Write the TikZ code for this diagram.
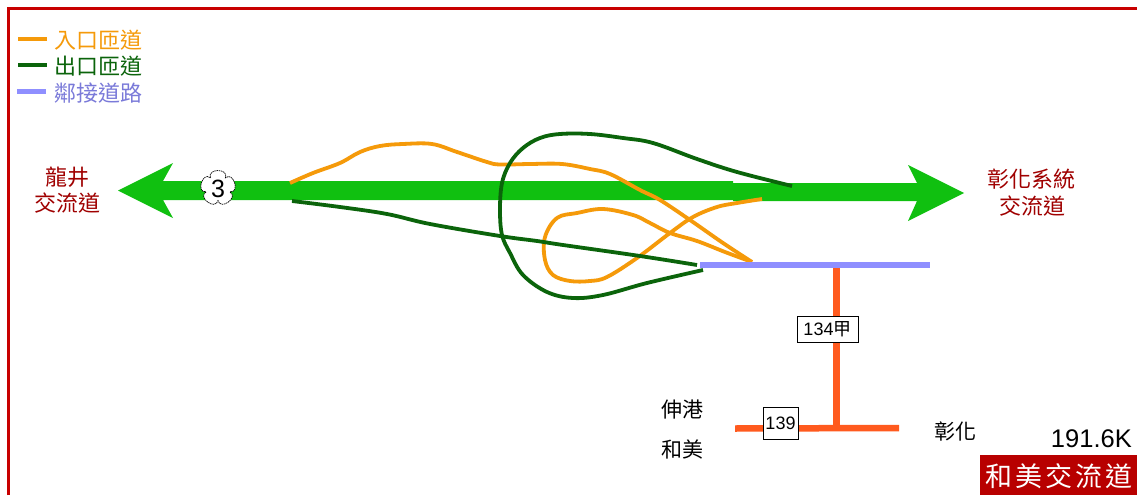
\documentclass[tikz,border=0pt]{standalone}
\usepackage{fontspec}
\setmainfont{Liberation Sans}
\newfontfamily\cjk{Noto Sans CJK TC}
\definecolor{bordercol}{HTML}{C80000}
\definecolor{ongreen}{HTML}{10C010}
\definecolor{rampin}{HTML}{F59A0A}
\definecolor{rampout}{HTML}{0B640B}
\definecolor{adjroad}{HTML}{8F8FFF}
\definecolor{localroad}{HTML}{FF5A1E}
\definecolor{darkred}{HTML}{A00000}
\definecolor{boxred}{HTML}{B80000}
\tikzset{
  x=1pt,y=-1pt,
  lbl/.style={inner sep=0pt,font=\fontsize{#1}{#1}\selectfont\cjk},
  lbl/.default=21,
  ic/.style={lbl=22,text=darkred,align=center},
  ramp/.style={line width=3.8pt,line join=round},
  legendline/.style={line width=3.8pt},
  roadbox/.style={draw=black,fill=white,line width=.9pt,inner sep=0pt,font=\fontsize{18}{18}\selectfont},
}
\begin{document}
\begin{tikzpicture}
\useasboundingbox (0,0) rectangle (1137,495);
\fill[white] (0,0) rectangle (1137,495);
% frame
\draw[bordercol,line width=2.5pt] (8.5,495) -- (8.5,8.5) -- (1137,8.5);
% legend
\coordinate (l1a) at (18,39); \coordinate (l1b) at (47,39);
\coordinate (l2a) at (18,65); \coordinate (l2b) at (47,65);
\coordinate (l3a) at (17,91); \coordinate (l3b) at (46,91);
\draw[legendline,rampin] (l1a) -- (l1b);
\draw[legendline,rampout] (l2a) -- (l2b);
\draw[legendline,adjroad,line width=5pt] (l3a) -- (l3b);
\node[lbl=22,text=rampin,anchor=west] (t1) at (54,40) {入口匝道};
\node[lbl=22,text=rampout,anchor=west] (t2) at (54,66) {出口匝道};
\node[lbl=22,text=adjroad!85!black,anchor=west] (t3) at (54,93) {鄰接道路};
% freeway
\fill[ongreen] (118,190.5) -- (173,163) -- (163,181) -- (733,181) -- (733,183) -- (917,183) -- (908,165) -- (964,193) -- (908,221) -- (917,201) -- (733,201) -- (733,200) -- (163,200) -- (173,218) -- cycle;
% ramps
\coordinate (oa) at (290,183);
\coordinate (ob) at (752,262);
\coordinate (oc) at (762,199);
\coordinate (ga) at (292,201);
\coordinate (gb) at (697,265);
\coordinate (gc) at (792,186);
\coordinate (gd) at (703,270);
\draw[rampin,ramp] plot[smooth,tension=.6] coordinates {(oa) (313,173) (340,163) (360,152) (380,146) (403,144) (432,144) (457,152) (487,162) (500,164.5) (530,164) (562,164) (590,169) (610,174) (640,190) (660,200) (690,220) (723,243) (ob)};
\draw[rampin,ramp] plot[smooth,tension=.6] coordinates {(ob) (725,252) (697,241) (670,233) (650,223) (633,215) (603,209) (577,213) (557,218) (545,237) (545,260) (553,275) (570,281) (590,281) (607,277) (637,258) (670,233) (693,217) (717,207) (737,203) (oc)};
\draw[rampout,ramp] plot[smooth,tension=.6] coordinates {(ga) (340,207) (387,214) (430,224) (500,236) (537,241) (563,245) (640,256) (gb)};
\draw[rampout,ramp] plot[smooth,tension=.6] coordinates {(gc) (737,172) (697,159) (653,143) (623,138) (590,134) (560,134) (540,138) (523,148) (510,163) (502,183) (500,210) (502,235) (510,253) (523,275) (547,292) (573,298) (603,295) (647,283) (gd)};
% roads
\coordinate (ba) at (700,265); \coordinate (bb) at (930,265);
\coordinate (va) at (836,268); \coordinate (vb) at (836,428);
\coordinate (ha) at (735,428.5); \coordinate (hb) at (899,428);
\draw[adjroad,line width=6.5pt] (ba) -- (bb);
\draw[localroad,line width=7pt] (va) -- (vb);
\draw[localroad,line width=6.5pt] (ha) -- (hb);
\node[roadbox,minimum width=61pt,minimum height=26pt] (r134) at (827.5,329) {134{\cjk 甲}};
\node[roadbox,minimum width=35pt,minimum height=32pt] (r139) at (780.5,423) {139};
% shield
\draw[fill=white,draw=black,line width=.7pt,dash pattern=on 1.5pt off .7pt,shift={(218,188)}]
  (234:12.5) .. controls (240:23) and (300:23) .. (306:12.5)
  .. controls (312:23) and (372:23) .. (18:12.5)
  .. controls (24:23) and (84:23) .. (90:12.5)
  .. controls (96:23) and (156:23) .. (162:12.5)
  .. controls (168:23) and (228:23) .. (234:12.5) -- cycle;
\node[inner sep=0pt,font=\fontsize{25}{25}\selectfont] (n3) at (218,189) {3};
% labels
\node[ic] (lj1) at (67,177) {龍井};
\node[ic] (lj2) at (67,203) {交流道};
\node[ic] (ch1) at (1031,179) {彰化系統};
\node[ic] (ch2) at (1032,206) {交流道};
\node[lbl=21] (z1) at (682,410) {伸港};
\node[lbl=21] (z2) at (682,450) {和美};
\node[lbl=21] (z3) at (955,431) {彰化};
\node[inner sep=0pt,anchor=east,font=\fontsize{25.5}{25.5}\selectfont] (km) at (1132,439) {191.6K};
\fill[boxred] (980,455) rectangle (1137,495);
\node[lbl=27,text=white] (name) at (1058.5,476) {\makebox[147pt][s]{和\hfill 美\hfill 交\hfill 流\hfill 道}};
\end{tikzpicture}
\end{document}
